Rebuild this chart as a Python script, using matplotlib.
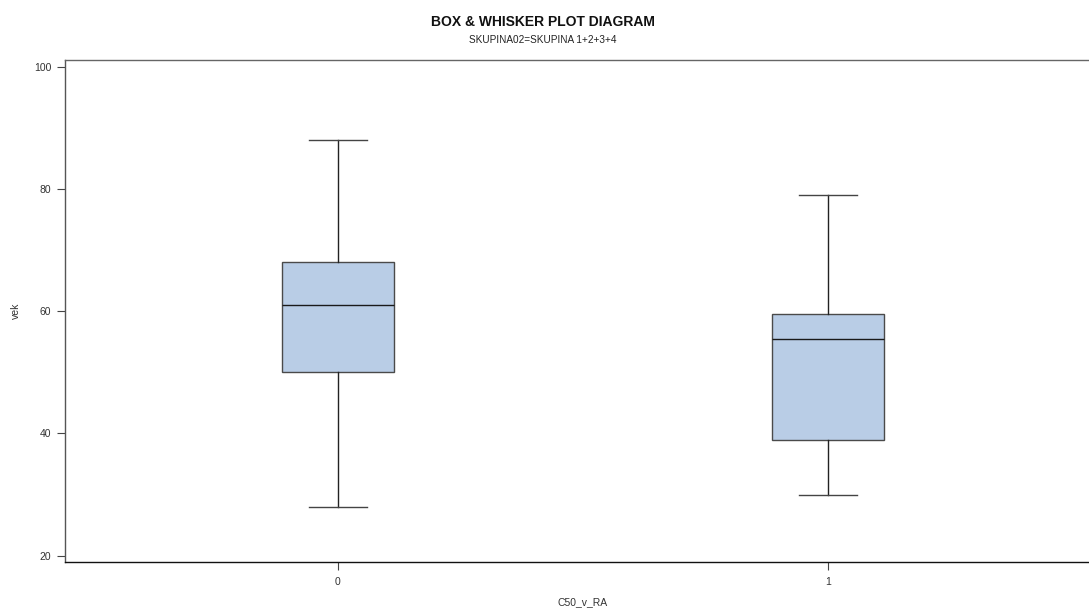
import matplotlib
matplotlib.use("Agg")
import matplotlib.pyplot as plt

# five-number summaries of vek by C50_v_RA group
groups = ["0", "1"]
whisker_low = [28, 30]
q1 = [50, 39]
median = [61, 55.5]
q3 = [68, 59.5]
whisker_high = [88, 79]

plt.rcParams["font.family"] = ["Liberation Sans", "DejaVu Sans"]

fig = plt.figure(figsize=(10.89, 6.11), dpi=100)
ax = fig.add_axes([65 / 1089, 49 / 611, 1036 / 1089, 502 / 611])

stats = []
for i, name in enumerate(groups):
    stats.append({
        "label": name,
        "whislo": whisker_low[i],
        "q1": q1[i],
        "med": median[i],
        "q3": q3[i],
        "whishi": whisker_high[i],
        "fliers": [],
    })

ax.bxp(stats, positions=[0, 1], widths=0.23, patch_artist=True, showfliers=False,
       boxprops=dict(facecolor="#b9cde6", edgecolor="#4a4a4a", linewidth=1.0),
       medianprops=dict(color="#1a1a1a", linewidth=1.0),
       whiskerprops=dict(color="#222222", linewidth=1.0),
       capprops=dict(color="#444444", linewidth=1.0),
       capwidths=0.118)

ax.set_xlim(-0.557, 1.557)
ax.set_ylim(18.97, 101.1)
ax.set_yticks([20, 40, 60, 80, 100])
ax.set_xticks([0, 1])
ax.set_xticklabels(groups)

for side in ["left", "bottom", "top", "right"]:
    ax.spines[side].set_linewidth(1.0)
ax.spines["left"].set_color("#555555")
ax.spines["top"].set_color("#666666")
ax.spines["bottom"].set_color("#111111")

ax.tick_params(axis="both", length=6, width=0.8, color="#444444",
               labelsize=7.5, labelcolor="#333333", pad=4)
ax.tick_params(axis="x", pad=5)

ax.set_ylabel("vek", fontsize=7.5, color="#333333", labelpad=9)
ax.set_xlabel("C50_v_RA", fontsize=7.5, color="#333333", labelpad=7)

fig.text(543 / 1089, 1 - 22 / 611, "BOX & WHISKER PLOT DIAGRAM", ha="center", va="center",
         fontsize=10, fontweight="bold", color="#111111")
fig.text(543 / 1089, 1 - 40 / 611, "SKUPINA02=SKUPINA 1+2+3+4", ha="center", va="center",
         fontsize=7.2, color="#222222")

fig.savefig("out.png", dpi=100)
